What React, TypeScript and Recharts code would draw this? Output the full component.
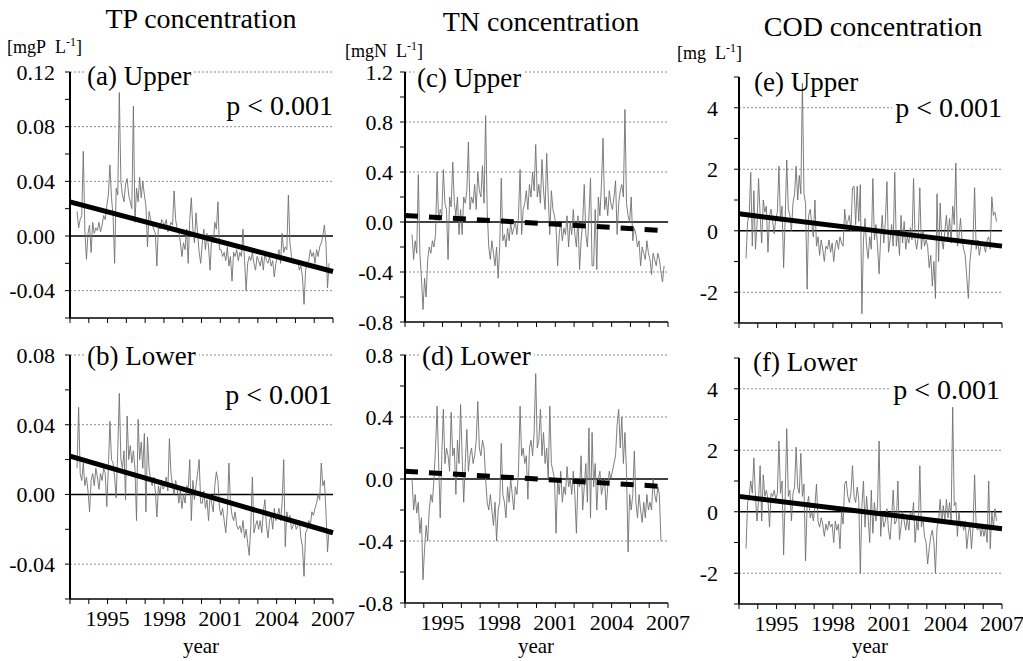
import React from "react";
import { LineChart, Line, XAxis, YAxis, ReferenceLine } from "recharts";

const serif = "'Liberation Serif', 'DejaVu Serif', serif";

// monthly anomalies, first value = May 1993
const FIRST_MONTH = 1993 + 4.5 / 12;

const years = [1993, 1994, 1995, 1996, 1997, 1998, 1999, 2000, 2001, 2002, 2003, 2004, 2005, 2006, 2007];
const yearLabels = [1995, 1998, 2001, 2004, 2007];

// TP upper [mgP L-1]
const tpUpper = [
  0.018, 0.006, 0.012, 0.015, 0.062, 0.004, -0.017, 0.002,
  0.008, -0.012, 0.01, 0.002, 0.006, 0.004, 0.01, 0.003, 0.008, 0.015, 0.012, 0.022,
  0.03, 0.052, 0.028, 0.015, -0.02, 0.035, 0.03, 0.105, 0.04, 0.03, 0.025, 0.038,
  0.042, 0.03, 0.025, 0.02, 0.095, 0.01, 0.035, 0.025, 0.043, 0.028, 0.04, 0.03,
  0.022, -0.008, 0.018, 0.012, 0.008, 0.005, 0.002, -0.022, 0.008, 0.005, 0.012, 0.01,
  0.008, 0.012, 0.003, 0.006, 0.01, 0.008, 0.033, 0.012, 0.005, 0.003, -0.005, -0.015,
  -0.005, -0.01, 0.005, -0.02, 0.012, 0.028, 0.005, -0.005, 0.017, 0.002, -0.012, -0.02,
  -0.005, 0.005, -0.01, 0.002, -0.008, -0.025, 0.0, -0.005, 0.01, 0.005, 0.025, -0.01,
  -0.01, -0.015, -0.012, -0.018, -0.008, -0.022, -0.015, -0.033, -0.012, -0.015, -0.01, -0.018,
  -0.012, -0.015, 0.005, -0.018, -0.04, -0.02, -0.015, -0.018, -0.012, -0.02, -0.025, -0.015,
  -0.018, -0.022, -0.015, -0.025, -0.012, -0.018, -0.02, -0.015, -0.022, -0.018, -0.03, -0.02,
  -0.015, -0.01, -0.02, 0.002, -0.012, -0.008, -0.01, 0.03, -0.005, -0.015, -0.02, -0.018,
  -0.02, -0.018, -0.025, -0.022, -0.03, -0.05, -0.025, -0.02, -0.018, -0.01, -0.015, -0.012,
  -0.02, -0.01, -0.015, -0.008, -0.005, 0.0, 0.008, -0.005, -0.038, -0.02,
];

// TP lower
const tpLower = [
  0.015, 0.05, 0.012, 0.008, 0.018, 0.005, 0.01, 0.002,
  -0.01, 0.008, 0.012, 0.005, 0.015, 0.01, 0.003, 0.012, 0.008, 0.015, 0.012, -0.007,
  0.015, 0.042, 0.02, 0.018, 0.01, -0.002, 0.025, 0.058, 0.02, 0.015, 0.025, -0.003,
  0.045, 0.02, 0.028, 0.018, 0.025, 0.015, -0.015, 0.043, 0.02, 0.03, 0.015, 0.035,
  -0.01, 0.033, 0.015, 0.008, 0.005, 0.01, 0.002, -0.013, 0.005, 0.0, 0.008, 0.003,
  0.005, 0.01, 0.002, 0.032, 0.012, 0.005, 0.0, 0.008, 0.003, -0.005, 0.002, -0.008,
  0.0, -0.005, 0.005, 0.003, 0.02, -0.015, 0.008, -0.003, 0.005, 0.012, 0.02, -0.005,
  -0.005, 0.002, -0.008, -0.003, -0.015, 0.0, -0.005, -0.01, 0.005, 0.013, 0.008, -0.008,
  -0.012, -0.008, -0.015, -0.022, -0.01, 0.018, -0.005, -0.012, -0.015, -0.01, -0.018, -0.02,
  -0.018, -0.022, -0.015, -0.025, -0.02, -0.028, -0.035, -0.018, 0.01, -0.022, -0.018, -0.015,
  -0.02, -0.015, -0.022, -0.01, -0.003, -0.018, -0.025, -0.015, -0.012, -0.02, -0.008, -0.015,
  -0.012, -0.008, -0.015, -0.005, 0.02, -0.03, -0.01, -0.015, -0.012, -0.02, -0.018, -0.015,
  -0.02, -0.018, -0.015, -0.025, -0.03, -0.047, -0.022, -0.02, -0.015, -0.018, -0.01, -0.012,
  -0.008, -0.005, 0.0, -0.003, 0.018, 0.005, 0.008, -0.01, -0.033, -0.02,
];

// TN upper [mgN L-1]
const tnUpper = [
  -0.1, -0.3, -0.15, -0.25, 0.38, -0.25, -0.45, -0.7,
  -0.45, -0.6, -0.3, -0.2, -0.25, -0.15, -0.2, -0.1, 0.4, 0.0, 0.1, 0.05,
  0.42, 0.15, 0.1, -0.3, 0.2, 0.12, 0.48, 0.15, 0.05, 0.2, -0.1, 0.1,
  -0.1, 0.2, 0.15, 0.25, 0.64, 0.1, 0.2, 0.15, 0.3, 0.1, 0.4, 0.25,
  0.2, 0.45, 0.15, 0.85, 0.1, -0.2, -0.3, -0.15, -0.25, -0.35, -0.2, -0.45,
  -0.2, 0.35, -0.15, -0.1, -0.2, -0.05, -0.15, 0.0, -0.1, -0.05, 0.0, -0.1,
  0.05, 0.42, -0.1, 0.1, 0.15, 0.25, 0.1, 0.3, 0.2, 0.4, 0.25, 0.62,
  0.2, 0.3, 0.15, 0.5, 0.25, 0.1, 0.55, 0.2, -0.1, 0.25, 0.1, 0.05,
  -0.05, -0.35, -0.1, 0.0, -0.15, -0.05, -0.1, 0.05, -0.2, 0.0, -0.1, 0.1,
  -0.1, -0.2, 0.05, -0.38, -0.15, 0.0, 0.3, -0.1, -0.2, 0.05, 0.35, -0.35,
  -0.35, 0.1, -0.38, 0.2, 0.05, 0.3, 0.67, 0.1, 0.2, 0.05, 0.25, 0.15,
  0.1, 0.2, 0.33, -0.1, 0.15, 0.25, 0.3, 0.2, 0.9, 0.15, 0.05, 0.0,
  0.2, -0.15, -0.05, -0.1, -0.2, -0.15, -0.35, -0.2, -0.25, -0.3, -0.15, -0.25,
  -0.3, -0.42, -0.25, -0.3, -0.35, -0.25, -0.3, -0.4, -0.48, -0.35,
];

// TN lower
const tnLower = [
  0.0, -0.2, -0.1, -0.22, -0.15, -0.35, -0.25, -0.65,
  -0.45, -0.3, -0.4, -0.2, -0.1, -0.15, 0.0, 0.2, 0.47, 0.1, -0.25, 0.15,
  0.45, 0.1, 0.2, 0.15, 0.05, 0.43, 0.15, 0.2, -0.1, 0.25, 0.1, 0.48,
  0.15, -0.15, 0.1, 0.32, 0.05, 0.15, 0.2, 0.1, 0.15, 0.25, 0.5, 0.2,
  0.15, 0.25, 0.2, 0.0, -0.15, -0.2, -0.1, -0.2, -0.3, -0.15, -0.4, -0.2,
  -0.15, 0.23, -0.1, -0.15, -0.25, -0.05, -0.15, 0.0, -0.1, -0.2, -0.05, -0.1,
  0.05, 0.47, 0.15, 0.2, 0.1, 0.15, -0.13, 0.2, 0.25, 0.15, 0.3, 0.68,
  0.2, 0.25, 0.45, 0.15, 0.3, 0.1, 0.2, 0.0, 0.47, 0.1, 0.05, 0.0,
  -0.35, 0.0, -0.1, 0.05, -0.15, -0.05, -0.1, 0.08, -0.05, 0.0, -0.1, 0.05,
  -0.1, -0.35, 0.0, -0.05, 0.15, -0.2, -0.05, 0.1, -0.15, 0.33, -0.25, 0.3,
  -0.05, 0.1, -0.2, 0.0, 0.05, -0.1, -0.05, 0.0, -0.2, -0.05, 0.05, 0.0,
  0.05, 0.1, 0.15, 0.35, 0.45, 0.2, 0.4, 0.1, 0.3, 0.05, -0.47, -0.1,
  -0.2, -0.1, 0.18, -0.15, -0.25, -0.1, -0.2, -0.28, -0.15, -0.25, -0.1, -0.2,
  -0.15, -0.2, 0.0, -0.1, -0.15, -0.05, -0.1, -0.4,
];

// COD upper [mg L-1]
const codUpper = [
  -0.9, 0.3, 0.5, 1.9, -0.5, 1.3, -0.6, 0.2,
  1.7, 0.5, -0.4, 1.0, 0.6, 0.8, -0.7, 0.5, 0.7, 0.3, -0.1, 0.4,
  0.6, 2.1, 0.3, 0.8, -1.2, 0.4, 2.3, 0.7, 0.5, 0.0, 0.9, 1.2,
  2.1, 1.0, 1.8, 1.2, 4.8, 1.2, 0.9, -1.9, 0.5, 0.7, 0.2, -0.2,
  1.0, -0.5, -0.2, -0.8, -0.3, -0.6, -1.0, -0.5, -0.6, -0.3, -0.7, -0.4,
  -1.0, -0.5, -0.3, -0.6, -0.2, -0.4, -0.5, 0.7, 0.2, 0.3, 0.5, 0.0,
  1.4, 1.45, 0.2, 1.45, 0.3, 1.5, -2.7, -0.3, 0.4, -0.5, -0.9, -0.2,
  -0.6, 1.7, -0.3, 0.2, -0.5, -1.4, -0.2, 0.5, -0.4, 0.3, 1.6, -0.7,
  -0.3, 0.2, -0.5, 1.9, -0.5, 0.0, -0.8, 0.5, -0.4, 0.3, -0.6, -0.2,
  -0.4, 0.1, -0.3, 1.7, -0.3, -0.6, -0.2, 1.4, -0.6, 0.0, -0.5, -0.3,
  -0.5, -1.2, -0.8, -1.8, -1.0, -2.2, 1.2, -1.0, 0.9, -0.3, -0.6, 0.0,
  0.5, -0.2, 0.4, -0.4, 0.8, 0.2, 2.2, -0.5, -0.2, 0.4, -0.3, -0.6,
  -0.8, -1.5, -2.2, -1.0, -0.5, -0.3, 1.4, -0.6, -0.3, -0.8, -0.5, -0.4,
  -0.5, -0.7, -0.3, -0.2, -0.6, 1.1, 0.5, 0.6, 0.3,
];

// COD lower
const codLower = [
  -1.2, 0.3, 0.5, 1.0, 0.6, 1.75, 0.5, -0.3,
  0.4, 1.5, -0.3, 1.2, 0.5, 0.7, 0.4, -0.5, 0.6, 0.5, 0.7, 0.4,
  0.6, 2.3, 0.6, 1.0, -1.4, 0.5, 2.7, 0.5, 0.7, -0.3, 0.6, 0.8,
  2.1, 0.8, 0.6, 1.9, 0.5, 0.9, -1.6, 0.2, 0.5, -0.2, 0.0, -0.3,
  0.2, 0.9, -0.3, -0.5, -0.2, -0.4, -0.8, -0.4, -0.6, -0.3, -0.5, -0.4,
  -1.0, -0.3, -0.6, -0.4, -1.2, 0.0, -0.4, 0.9, 1.0, 0.5, 0.3, 0.6,
  1.5, 0.5, 0.3, 0.8, 0.4, -2.0, 0.2, 1.0, -0.5, 0.5, -0.2, -1.0,
  0.7, -0.7, 0.3, -0.3, 0.2, 2.3, -0.8, 0.0, -0.5, -0.3, 0.1, -0.6,
  -0.9, -0.2, 0.7, -0.4, -0.3, 1.0, -0.9, -0.5, 0.0, -0.3, -0.6, -0.2,
  -0.6, 0.0, -0.2, 0.3, -1.0, -0.3, -0.6, 1.5, -0.5, -0.2, -0.8, -1.0,
  -1.7, -1.2, -0.8, -0.6, -1.0, -2.0, -0.5, -0.3, 0.4, -0.4, 0.2, -0.3,
  0.4, -0.2, 0.3, -0.3, 3.4, 0.2, 0.3, -0.8, 0.0, -0.5, -0.3, -0.6,
  -0.3, -1.2, -0.7, -0.4, -1.2, -0.5, 1.2, -0.5, -0.6, -0.4, -0.8, -0.5,
  -0.8, -0.5, -1.0, 1.0, -1.2, 0.0, -0.5, 0.1, -0.3,
];

// linear trends: value at 1993 and at 2007
const tpUpperTrend = [0.025, -0.026];
const tpLowerTrend = [0.022, -0.022];
const tnUpperTrend = [0.052, -0.07];
const tnLowerTrend = [0.05, -0.05];
const codUpperTrend = [0.55, -0.5];
const codLowerTrend = [0.5, -0.55];

const tpTicksUpper = [-0.06, -0.04, -0.02, 0, 0.02, 0.04, 0.06, 0.08, 0.1, 0.12];
const tpTicksLower = [-0.06, -0.04, -0.02, 0, 0.02, 0.04, 0.06, 0.08];
const tpLabels = [-0.04, 0, 0.04, 0.08, 0.12];
const tnTicksUpper = [-0.8, -0.6, -0.4, -0.2, 0, 0.2, 0.4, 0.6, 0.8, 1.0, 1.2];
const tnTicksLower = [-0.8, -0.6, -0.4, -0.2, 0, 0.2, 0.4, 0.6, 0.8];
const tnLabels = [-0.8, -0.4, 0, 0.4, 0.8, 1.2];
const codTicks = [-3, -2, -1, 0, 1, 2, 3, 4, 5];
const codLabels = [-2, 0, 2, 4];

const TOP_PAD = 16;
const RIGHT_PAD = 28;

type PanelProps = {
  values: number[];
  trend: number[];
  dashed?: boolean;
  domain: [number, number];
  ticks: number[];
  labels: number[];
  grid: number[];
  digits: number;
  left: number;
  top: number;
  width: number;
  height: number;
  showYears: boolean;
  tickGap: number;
};

function Panel(p: PanelProps) {
  const data = p.values.map((v, i) => ({ t: FIRST_MONTH + i / 12, v }));
  const xh = p.showYears ? 44 : 12;
  return (
    <div style={{ position: "absolute", left: p.left - 70, top: p.top - TOP_PAD }}>
      <LineChart
        width={70 + p.width + RIGHT_PAD}
        height={TOP_PAD + p.height + xh}
        data={data}
        margin={{ top: TOP_PAD, right: RIGHT_PAD, bottom: 0, left: 0 }}
      >
        <XAxis
          type="number"
          dataKey="t"
          domain={[1993, 2007]}
          ticks={years}
          interval={0}
          height={xh}
          tickSize={5}
          tickMargin={6}
          allowDataOverflow
          axisLine={{ stroke: "#000", strokeWidth: 1.5 }}
          tickLine={{ stroke: "#000" }}
          tick={{ fill: "#000", fontSize: 22, fontFamily: serif }}
          tickFormatter={(y: number) => (p.showYears && yearLabels.includes(y) ? String(y) : "")}
        />
        <YAxis
          type="number"
          domain={p.domain}
          ticks={p.ticks}
          interval={0}
          width={70}
          tickSize={5}
          tickMargin={p.tickGap - 5}
          allowDataOverflow
          axisLine={{ stroke: "#000", strokeWidth: 2 }}
          tickLine={{ stroke: "#000" }}
          tick={{ fill: "#000", fontSize: 22, fontFamily: serif }}
          tickFormatter={(v: number) => (p.labels.includes(v) ? v.toFixed(p.digits) : "")}
        />
        {p.grid.map((g) => (
          <ReferenceLine key={g} y={g} stroke="#8c8c8c" strokeDasharray="2 2" />
        ))}
        <ReferenceLine y={0} stroke="#000" strokeWidth={1.5} />
        <Line
          type="linear"
          dataKey="v"
          stroke="#707070"
          strokeWidth={0.9}
          dot={false}
          isAnimationActive={false}
        />
        <ReferenceLine
          segment={[
            { x: 1993, y: p.trend[0] },
            { x: 2007, y: p.trend[1] },
          ]}
          stroke="#000"
          strokeWidth={5}
          strokeDasharray={p.dashed ? "13 11" : undefined}
        />
      </LineChart>
    </div>
  );
}

function Txt({
  x,
  y,
  size,
  align = "left",
  bg = false,
  children,
}: {
  x: number;
  y: number;
  size: number;
  align?: "left" | "center" | "right";
  bg?: boolean;
  children: React.ReactNode;
}) {
  const tx = align === "center" ? "-50%" : align === "right" ? "-100%" : "0";
  return (
    <div
      style={{
        position: "absolute",
        left: x,
        top: y,
        transform: `translate(${tx}, -50%)`,
        fontSize: size,
        lineHeight: 1,
        whiteSpace: "nowrap",
        background: bg ? "#fff" : "transparent",
        padding: bg ? "0 3px" : 0,
        color: "#000",
      }}
    >
      {children}
    </div>
  );
}

function Unit({ x, y, text }: { x: number; y: number; text: string }) {
  return (
    <Txt x={x} y={y} size={18}>
      [{text}&nbsp;&nbsp;L<sup style={{ fontSize: 12 }}>-1</sup>]
    </Txt>
  );
}

export default function App() {
  return (
    <div
      style={{
        position: "absolute",
        left: 0,
        top: 0,
        width: 1023,
        height: 661,
        background: "#fff",
        fontFamily: serif,
        overflow: "hidden",
      }}
    >
      <Panel values={tpUpper} trend={tpUpperTrend} domain={[-0.06, 0.12]} ticks={tpTicksUpper} labels={tpLabels}
        grid={[0.12, 0.08, 0.04, -0.04]} digits={2} left={70} top={72} width={263} height={246} showYears={false} tickGap={15} />
      <Panel values={tpLower} trend={tpLowerTrend} domain={[-0.06, 0.08]} ticks={tpTicksLower} labels={tpLabels}
        grid={[0.08, 0.04, -0.04]} digits={2} left={70} top={355} width={263} height={244} showYears tickGap={15} />
      <Panel values={tnUpper} trend={tnUpperTrend} dashed domain={[-0.8, 1.2]} ticks={tnTicksUpper} labels={tnLabels}
        grid={[1.2, 0.8, 0.4, -0.4]} digits={1} left={405} top={72} width={263} height={250} showYears={false} tickGap={12} />
      <Panel values={tnLower} trend={tnLowerTrend} dashed domain={[-0.8, 0.8]} ticks={tnTicksLower} labels={tnLabels}
        grid={[0.8, 0.4, -0.4]} digits={1} left={405} top={355} width={263} height={248} showYears tickGap={12} />
      <Panel values={codUpper} trend={codUpperTrend} domain={[-3, 5]} ticks={codTicks} labels={codLabels}
        grid={[4, 2, -2]} digits={0} left={739} top={77} width={263} height={246} showYears={false} tickGap={21} />
      <Panel values={codLower} trend={codLowerTrend} domain={[-3, 5]} ticks={codTicks} labels={codLabels}
        grid={[4, 2, -2]} digits={0} left={739} top={358} width={263} height={246} showYears tickGap={21} />

      <Txt x={201} y={19} size={28} align="center">TP concentration</Txt>
      <Txt x={541} y={22} size={28} align="center">TN concentration</Txt>
      <Txt x={873} y={27} size={28} align="center">COD concentration</Txt>

      <Unit x={7} y={46} text="mgP" />
      <Unit x={345} y={50} text="mgN" />
      <Unit x={677} y={52} text="mg" />

      <Txt x={84} y={76} size={27} bg>(a) Upper</Txt>
      <Txt x={84} y={356} size={27} bg>(b) Lower</Txt>
      <Txt x={414} y={78} size={27} bg>(c) Upper</Txt>
      <Txt x={419} y={356} size={27} bg>(d) Lower</Txt>
      <Txt x={754} y={82} size={27}>(e) Upper</Txt>
      <Txt x={753} y={362} size={27}>(f) Lower</Txt>

      <Txt x={336} y={106} size={28} align="right" bg>p &lt; 0.001</Txt>
      <Txt x={335} y={395} size={28} align="right" bg>p &lt; 0.001</Txt>
      <Txt x={1005} y={108} size={28} align="right" bg>p &lt; 0.001</Txt>
      <Txt x={1003} y={390} size={28} align="right" bg>p &lt; 0.001</Txt>

      <Txt x={201} y={646} size={21} align="center">year</Txt>
      <Txt x={536} y={646} size={21} align="center">year</Txt>
      <Txt x={870} y={646} size={21} align="center">year</Txt>
    </div>
  );
}
